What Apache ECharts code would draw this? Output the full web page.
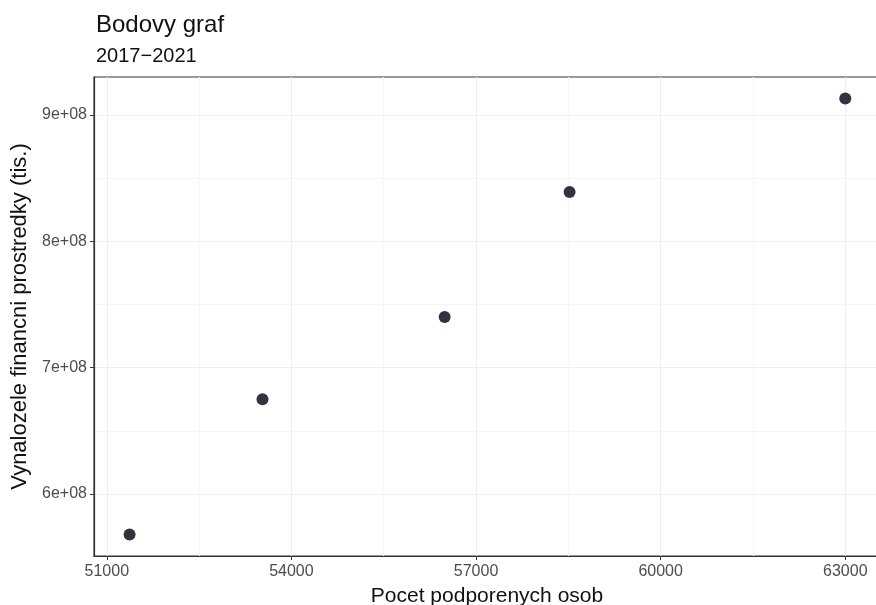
<!DOCTYPE html>
<html>
<head>
	<title>Bodovy graf</title>
	<meta charset="utf-8" />
	<script type="text/javascript" src="https://cdn.jsdelivr.net/npm/echarts@6/dist/echarts.min.js"></script>
	<style type="text/css">
		html, body { margin: 0; padding: 0; background: #fff; }
		#container { width: 876px; height: 605px; }
	</style>
</head>
<body>
<div id="container"></div>
<script type="text/javascript">
	// pocet podporenych osob vs. vynalozene prostredky, 2017-2021
	var osoby = [51370, 53530, 56490, 58520, 63000];
	var prostredky = [5.68e8, 6.75e8, 7.40e8, 8.39e8, 9.13e8];

	var xTicks = [51000, 54000, 57000, 60000, 63000];
	var yTicks = [6e8, 7e8, 8e8, 9e8];
	var xMinor = [52500, 55500, 58500, 61500];
	var yMinor = [5.5e8, 6.5e8, 7.5e8, 8.5e8];

	var points = [];
	for (var i = 0; i < osoby.length; i++) {
		points.push([osoby[i], prostredky[i]]);
	}

	var chart = echarts.init(document.getElementById('container'));
	var font = 'Liberation Sans, Arial, sans-serif';
	// panel runs past the right edge of the picture
	var xMin = 50792, xMax = 63824, yMin = 5.509e8, yMax = 9.30e8;

	var options = {
		animation: false,
		title: [
			{ text: 'Bodovy graf', left: 91, top: 8,
			  textStyle: { fontFamily: font, fontSize: 24, fontWeight: 'normal', color: '#111' } },
			{ text: '2017\u22122021', left: 91, top: 41,
			  textStyle: { fontFamily: font, fontSize: 20, fontWeight: 'normal', color: '#111' } }
		],
		grid: {
			left: 94, right: -20, top: 77, bottom: 49,
			outerBoundsMode: 'none', containLabel: false,
			show: true, borderColor: '#333', borderWidth: 1.2
		},
		xAxis: [
			{
				type: 'value', min: xMin, max: xMax,
				name: 'Pocet podporenych osob', nameLocation: 'middle', nameGap: 30,
				nameTextStyle: { fontFamily: font, fontSize: 21, color: '#111', padding: [0, 16, 0, 0] },
				axisLine: { show: true, lineStyle: { color: '#333', width: 1.2 } },
				axisTick: { show: true, length: 4, customValues: xTicks, lineStyle: { color: '#333' } },
				axisLabel: {
					customValues: xTicks, fontFamily: font, fontSize: 16, color: '#4d4d4d', margin: 8,
					formatter: function (v) { return String(v); }
				},
				splitLine: { show: true, lineStyle: { color: '#efefef' } }
			},
			{
				type: 'value', min: xMin, max: xMax, position: 'bottom',
				axisLine: { show: false },
				axisTick: { show: false, customValues: xMinor },
				axisLabel: { show: false, customValues: xMinor },
				splitLine: { show: true, lineStyle: { color: '#f6f6f6' } }
			}
		],
		yAxis: [
			{
				type: 'value', min: yMin, max: yMax,
				name: 'Vynalozele financni prostredky (tis.)', nameLocation: 'middle', nameGap: 63,
				nameTextStyle: { fontFamily: font, fontSize: 22, color: '#111' },
				axisLine: { show: true, lineStyle: { color: '#333', width: 1.2 } },
				axisTick: { show: true, length: 4, customValues: yTicks, lineStyle: { color: '#333' } },
				axisLabel: {
					customValues: yTicks, fontFamily: font, fontSize: 16, color: '#4d4d4d', margin: 7,
					formatter: function (v) { return (v / 1e8) + 'e+08'; }
				},
				splitLine: { show: true, lineStyle: { color: '#efefef' } }
			},
			{
				type: 'value', min: yMin, max: yMax, position: 'left',
				axisLine: { show: false },
				axisTick: { show: false, customValues: yMinor },
				axisLabel: { show: false, customValues: yMinor },
				splitLine: { show: true, lineStyle: { color: '#f6f6f6' } }
			}
		],
		series: [
			{
				type: 'scatter',
				data: points,
				symbol: 'circle',
				symbolSize: 12,
				itemStyle: { color: '#33333d', opacity: 1 }
			}
		]
	};

	chart.setOption(options);
</script>
</body>
</html>
